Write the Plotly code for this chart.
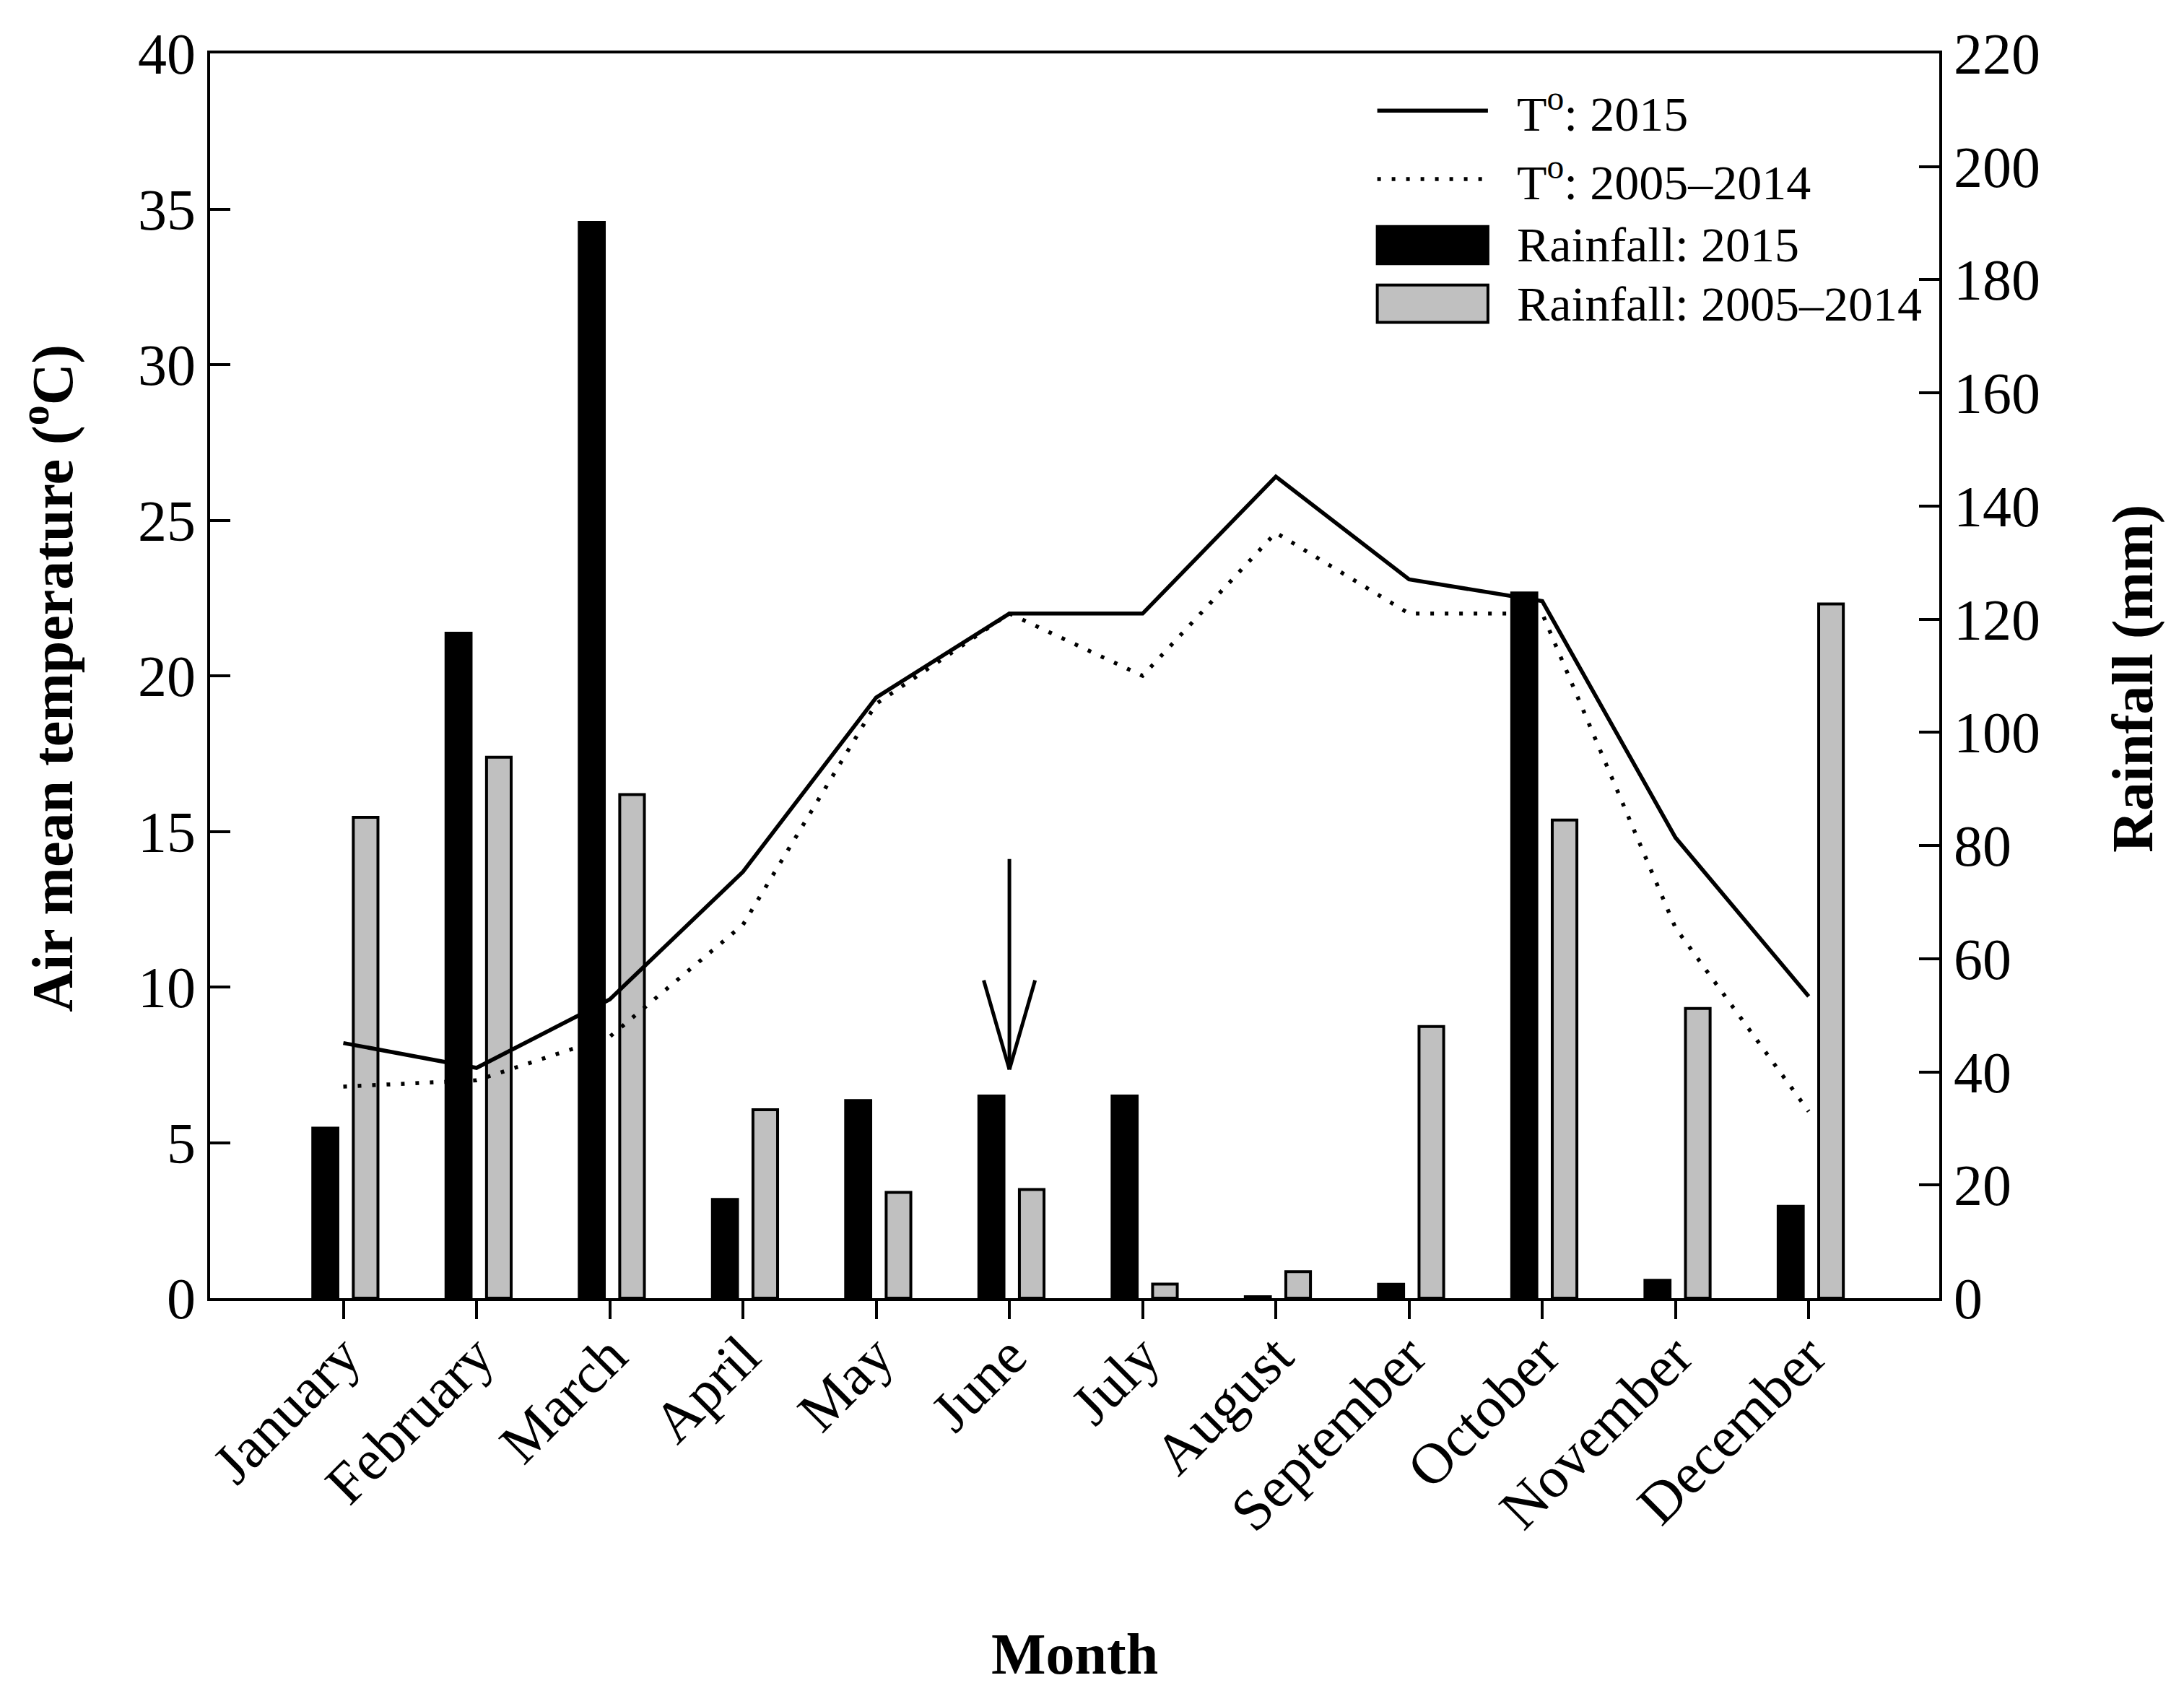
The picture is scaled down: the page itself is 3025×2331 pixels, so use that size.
import plotly.graph_objs as go

# monthly data
months = ["January", "February", "March", "April", "May", "June",
          "July", "August", "September", "October", "November", "December"]
temp_2015 = [8.2, 7.4, 9.6, 13.7, 19.3, 22.0, 22.0, 26.4, 23.1, 22.4, 14.8, 9.7]
temp_2005_2014 = [6.8, 7.0, 8.4, 12.0, 19.1, 22.0, 20.0, 24.6, 22.0, 22.0, 11.9, 6.0]
rain_2015 = [30.3, 117.8, 190.4, 17.7, 35.2, 36.0, 36.0, 0.5, 2.7, 124.9, 3.4, 16.5]
rain_2005_2014 = [85.0, 95.6, 89.0, 33.3, 18.7, 19.2, 2.5, 4.7, 48.0, 84.5, 51.2, 122.7]

# arrow marking June (temperature units)
arrow_month = 5
arrow_top = 14.15
arrow_tip = 7.35

x = list(range(len(months)))
SERIF = "Liberation Serif"
BLACK = "black"
GRAY = "#c0c0c0"

fig = go.Figure()

# rainfall bars on the primary (right-side) axis so lines render on top
fig.add_trace(go.Bar(
    x=x, y=rain_2015, yaxis="y",
    offset=-0.24, width=0.21,
    marker=dict(color=BLACK, line=dict(color=BLACK, width=0)),
    name="Rainfall: 2015", showlegend=False,
))
fig.add_trace(go.Bar(
    x=x, y=rain_2005_2014, yaxis="y",
    offset=0.075, width=0.185,
    marker=dict(color=GRAY, line=dict(color=BLACK, width=4)),
    name="Rainfall: 2005–2014", showlegend=False,
))

# temperature lines
fig.add_trace(go.Scatter(
    x=x, y=temp_2015, yaxis="y2", mode="lines",
    line=dict(color=BLACK, width=5.5),
    name="T°: 2015", showlegend=False,
))
fig.add_trace(go.Scatter(
    x=x, y=temp_2005_2014, yaxis="y2", mode="lines",
    line=dict(color=BLACK, width=5.5, dash="5px,15px"),
    name="T°: 2005–2014", showlegend=False,
))

tickfont = dict(family=SERIF, size=80, color=BLACK)

fig.update_layout(
    width=3025, height=2331,
    margin=dict(l=283, r=347, t=66, b=541),
    paper_bgcolor="white", plot_bgcolor="white",
    barmode="overlay",
    xaxis=dict(
        range=[-1.0, 11.98],
        tickmode="array", tickvals=x, ticktext=months,
        tickangle=-45, tickfont=tickfont,
        ticks="outside", ticklen=25, tickwidth=4, tickcolor=BLACK,
        ticklabelstandoff=-28,
        showline=True, linecolor=BLACK, linewidth=4, mirror=True,
        showgrid=False, zeroline=False,
    ),
    yaxis=dict(
        side="right", range=[0, 220], dtick=20,
        tickfont=tickfont,
        ticks="inside", ticklen=28, tickwidth=4, tickcolor=BLACK,
        showline=True, linecolor=BLACK, linewidth=4,
        showgrid=False, zeroline=False,
    ),
    yaxis2=dict(
        side="left", overlaying="y", range=[0, 40], dtick=5,
        tickfont=tickfont,
        ticks="inside", ticklen=28, tickwidth=4, tickcolor=BLACK,
        showline=True, linecolor=BLACK, linewidth=4,
        showgrid=False, zeroline=False,
    ),
)

titlefont = dict(family=SERIF, size=80, color=BLACK)
annotations = [
    dict(text="<b>Month</b>", x=0.5, y=-0.286, xref="paper", yref="paper",
         showarrow=False, font=titlefont, xanchor="center", yanchor="middle"),
    dict(text="<b>Air mean temperature (<sup>o</sup>C)</b>", x=-0.093, y=0.498,
         xref="paper", yref="paper", textangle=-90, showarrow=False,
         font=titlefont, xanchor="center", yanchor="middle"),
    dict(text="<b>Rainfall (mm)</b>", x=1.112, y=0.498,
         xref="paper", yref="paper", textangle=-90, showarrow=False,
         font=titlefont, xanchor="center", yanchor="middle"),
]

# June arrow: shaft in data units, open V head drawn as two short strokes
annotations.append(dict(x=arrow_month, y=arrow_tip, xref="x", yref="y2",
                        ax=arrow_month, ay=arrow_top, axref="x", ayref="y2",
                        showarrow=True, arrowhead=0, arrowwidth=5,
                        arrowcolor=BLACK, standoff=0, text=""))
for side in (-1, 1):
    annotations.append(dict(x=arrow_month, y=arrow_tip, xref="x", yref="y2",
                            ax=side * 36, ay=-125,
                            showarrow=True, arrowhead=0, arrowwidth=5,
                            arrowcolor=BLACK, standoff=0, text=""))

# hand-made legend (wide swatches like the original)
legfont = dict(family=SERIF, size=68, color=BLACK)
leg_x0, leg_x1, leg_tx = 0.675, 0.739, 0.755
leg_rows = [
    ("T<sup>o</sup>: 2015", "line", 0.954),
    ("T<sup>o</sup>: 2005–2014", "dot", 0.899),
    ("Rainfall: 2015", "black", 0.846),
    ("Rainfall: 2005–2014", "gray", 0.799),
]
shapes = []
for label, kind, yc in leg_rows:
    if kind == "line":
        shapes.append(dict(type="line", xref="paper", yref="paper",
                           x0=leg_x0, x1=leg_x1, y0=yc, y1=yc,
                           line=dict(color=BLACK, width=5.5)))
    elif kind == "dot":
        shapes.append(dict(type="line", xref="paper", yref="paper",
                           x0=leg_x0, x1=leg_x1, y0=yc, y1=yc,
                           line=dict(color=BLACK, width=5.5, dash="5px,15px")))
    else:
        fill = BLACK if kind == "black" else GRAY
        shapes.append(dict(type="rect", xref="paper", yref="paper",
                           x0=leg_x0, x1=leg_x1, y0=yc - 0.015, y1=yc + 0.015,
                           fillcolor=fill, line=dict(color=BLACK, width=4)))
    annotations.append(dict(text=label, x=leg_tx, y=yc, xref="paper", yref="paper",
                            showarrow=False, font=legfont,
                            xanchor="left", yanchor="middle"))

fig.update_layout(annotations=annotations, shapes=shapes)

fig.write_html("out.html")
